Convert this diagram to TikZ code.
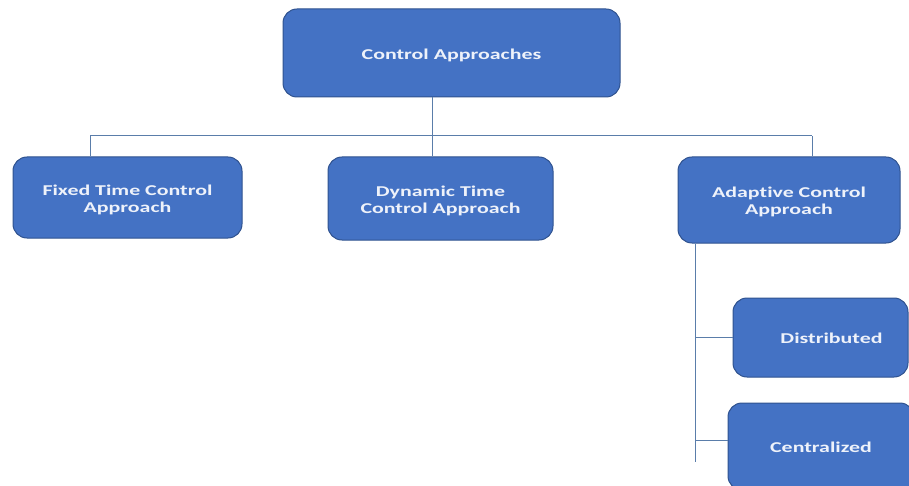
\documentclass[tikz,border=0pt]{standalone}
\usepackage{fontspec}
\setmainfont[Ligatures=NoCommon]{Carlito}
\usepackage{graphicx}
\usepackage{tikz}
\usetikzlibrary{positioning}

\definecolor{boxblue}{HTML}{4472C4}
\definecolor{boxedge}{HTML}{2F528F}
\definecolor{linkblue}{HTML}{5A7DAA}
\definecolor{labeltext}{HTML}{EEF2FA}

% wide box text, as in the stretched reference
\newcommand{\widetext}[1]{\raisebox{-3pt}[\height][\depth]{\scalebox{1.46}[1]{\begin{tabular}{@{}c@{}}#1\end{tabular}}}}

\begin{document}
\begin{tikzpicture}[
        x=1pt, y=1pt,
        block/.style={rectangle, rounded corners=14pt, draw=boxedge, line width=1pt, fill=boxblue,
          text=labeltext, align=center, font=\fontsize{15}{17}\selectfont\bfseries, inner sep=0pt},
        link/.style={draw=linkblue, line width=1pt}
      ]
      \useasboundingbox (0,0) rectangle (909,-486);
      \clip (0,0) rectangle (909,-486);

      % Root
      \node[block, minimum width=337, minimum height=88] (root) at (451.5,-53) {\widetext{Control Approaches}};

      % Second level
      \node[block, minimum width=229, minimum height=81] (fixed) at (127.5,-197.5) {\widetext{Fixed Time Control\\Approach}};
      \node[block, minimum width=225, minimum height=83] (dynamic) at (440.5,-198.5) {\widetext{Dynamic Time\\Control Approach}};
      \node[block, minimum width=222, minimum height=86] (adaptive) at (789,-200) {\widetext{Adaptive Control\\Approach}};

      % Third level
      \node[block, minimum width=175, minimum height=79] (distrib) at (820.5,-337.5) {\hspace*{22pt}\widetext{Distributed}};
      \node[block, minimum width=186, minimum height=87] (central) at (821,-446.5) {\widetext{Centralized}};

      % Tree bus
      \coordinate (busL) at (90,-136);
      \coordinate (busR) at (812,-136);
      \coordinate (trunk) at (432,-136);
      \coordinate (spine) at (695,-462);
      \coordinate (cjoin) at (695,-440);

      % Connections
      \draw[link] (trunk |- root.south) -- (trunk |- dynamic.north);
      \draw[link] (busL) -- (busR);
      \draw[link] (busL) -- (busL |- fixed.north);
      \draw[link] (busR) -- (busR |- adaptive.north);
      \draw[link] (spine |- adaptive.south) -- (spine);
      \draw[link] (spine |- distrib.west) -- (distrib.west);
      \draw[link] (cjoin) -- (cjoin -| central.west);

    \end{tikzpicture}
\end{document}
